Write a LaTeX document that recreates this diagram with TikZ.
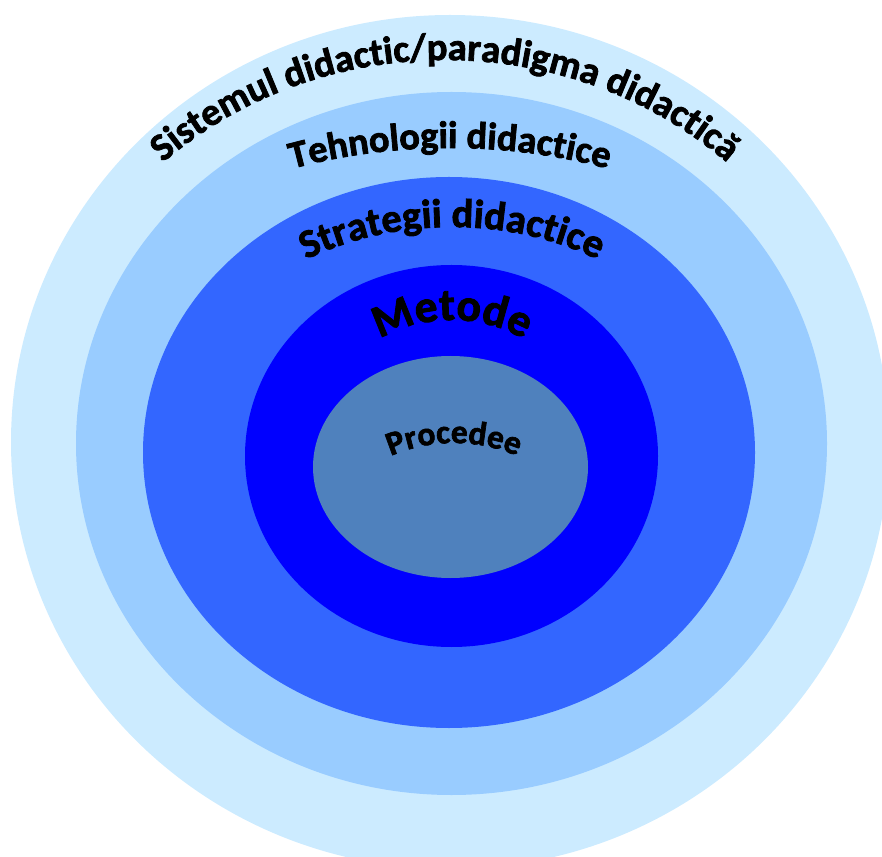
\documentclass[tikz,border=0pt]{standalone}
\usepackage{fontspec}
\setmainfont{Carlito}[BoldFeatures={FakeBold=2}]
\usetikzlibrary{decorations.text}

\definecolor{sistem}{HTML}{CCEBFF}
\definecolor{tehno}{HTML}{99CCFF}
\definecolor{strat}{HTML}{3366FF}
\definecolor{metod}{HTML}{0000FF}
\definecolor{proced}{HTML}{4F81BD}

\begin{document}
\begin{tikzpicture}[x=0.02cm, y=0.02cm,
    arctext/.style 2 args={decorate, decoration={text along path, text align=center,
        text={|\fontsize{#1}{#1}\selectfont\bfseries|#2}}}]
    \useasboundingbox (0,0) rectangle (882,856);
    \clip (0,0) rectangle (882,856);
    \fill[sistem] (450,414) ellipse [x radius=439, y radius=427];
    \fill[tehno] (451.5,412.5) ellipse [x radius=375.5, y radius=351.5];
    \fill[strat] (449,403.5) ellipse [x radius=306, y radius=275.5];
    \fill[metod] (451.5,400) ellipse [x radius=206.5, y radius=191];
    \fill[proced] (450.5,389) ellipse [x radius=137.5, y radius=111];
    \path[arctext={22}{Sistemul didactic/paradigma didactică}] (25,400) arc[start angle=180, end angle=0, x radius=420, y radius=396];
    \path[arctext={21.8}{Tehnologii didactice}] (20,410) arc[start angle=180, end angle=0, x radius=430, y radius=298];
    \path[arctext={23}{Strategii didactice}] (172,406) arc[start angle=180, end angle=0, x radius=280, y radius=223];
    \path[arctext={26}{Metode}] (312,401) arc[start angle=180, end angle=0, x radius=140, y radius=135];
    \path[arctext={19}{Procedee}] (294,253) arc[start angle=180, end angle=0, radius=160];
\end{tikzpicture}
\end{document}
